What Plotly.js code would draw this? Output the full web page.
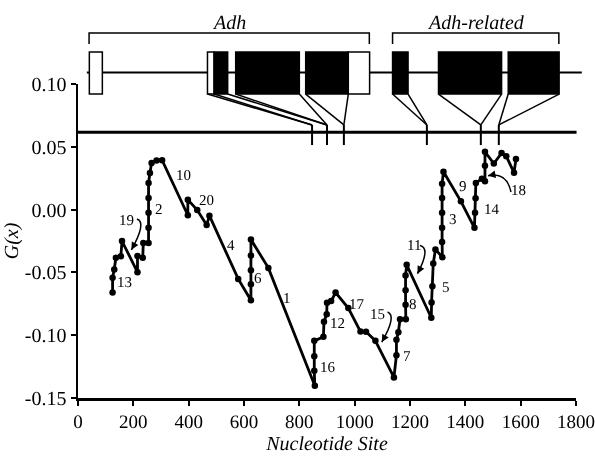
<!DOCTYPE html>
<html>
<head>
<meta charset="utf-8">
<script src="https://cdn.plot.ly/plotly-3.0.1.min.js"></script>
<style>
html,body{margin:0;padding:0;background:#fff;}
#chart{width:595px;height:456px;will-change:transform;}
#chart text{-webkit-font-smoothing:antialiased;text-rendering:geometricPrecision;}
</style>
</head>
<body>
<div id="chart"></div>
<script>
// ---- G(x) profile (nucleotide site, G value) ----
const sites = [125,125,131,137,155,159,215,215,234,236,255,255,255,255,255,260,266,284,304,
  397,397,431,465,475,579,625,625,625,625,625,688,856,854,854,854,887,889,899,900,915,931,
  977,1021,1041,1075,1142,1151,1151,1158,1164,1185,1184,1184,1184,1188,1277,1278,1281,1284,1292,
  1317,1316,1316,1316,1316,1316,1321,1384,1433,1435,1437,1438,1460,1471,1471,1471,1503,1531,1548,1576,1583];
const gvals = [-0.0661,-0.0542,-0.0476,-0.0383,-0.0371,-0.0250,-0.0498,-0.0369,-0.0383,-0.0266,-0.0266,
  -0.0145,-0.0026,0.0093,0.0212,0.0291,0.0371,0.0391,0.0393,
  -0.0045,0.0079,-0.0004,-0.0123,-0.0048,-0.0552,-0.0722,-0.0595,-0.0482,-0.0365,-0.0238,-0.0464,
  -0.1402,-0.1283,-0.1167,-0.1045,-0.1012,-0.0893,-0.0833,-0.0742,-0.0728,-0.0661,
  -0.0784,-0.0971,-0.0972,-0.1045,-0.1336,-0.1159,-0.1036,-0.0976,-0.0873,-0.0873,-0.0758,-0.0643,-0.0524,-0.0440,
  -0.0861,-0.0740,-0.0611,-0.0429,-0.0317,-0.0379,-0.0258,-0.0145,-0.0026,0.0093,0.0206,0.0302,
  0.0066,-0.0145,-0.0026,0.0091,0.0212,0.0246,0.0226,0.0349,0.0460,0.0367,0.0450,0.0425,0.0294,0.0402];

// ---- segment labels ----
const segLabels = ['13','19','2','10','20','4','6','1','16','12','17','15','7','8','11','5','3','9','14','18'];
const segX = [167,177,294,383,465,553,652,754,902,937,1007,1083,1190,1210,1215,1329,1356,1390,1495,1591];
const segY = [-0.0577,-0.0085,0.0008,0.0278,0.0075,-0.0278,-0.0542,-0.0702,-0.1256,-0.0905,-0.0754,
  -0.0828,-0.1169,-0.0748,-0.0278,-0.0613,-0.0074,0.0185,0.0006,0.0154];

// ---- curved pointer arrows (start, control, tip) ----
const arrowStartX = [213, 1236, 1119, 1565];
const arrowStartY = [-0.0075, -0.0285, -0.0815, 0.0140];
const arrowCtrlX = [249, 1276, 1153, 1550];
const arrowCtrlY = [-0.0100, -0.0305, -0.0845, 0.0300];
const arrowTipX = [193, 1227, 1098, 1482];
const arrowTipY = [-0.0320, -0.0510, -0.1055, 0.0270];

// ---- gene diagram ----
const exonStart = [41, 468, 492, 570, 823, 977, 1137, 1303, 1555];
const exonEnd   = [88, 492, 541, 800, 977, 1054, 1193, 1531, 1739];
const exonCoding = [0, 0, 1, 1, 1, 0, 1, 1, 1];
const intronTicks = [846, 900, 961, 1261, 1456, 1521];
const linkFrom = [468, 492, 541, 570, 800, 823, 977, 1137, 1193, 1303, 1531, 1555, 1739];
const linkTo   = [846, 846, 900, 900, 900, 961, 961, 1261, 1261, 1456, 1456, 1521, 1521];
const geneNames = ['Adh', 'Adh-related'];
const bracketStart = [40, 1137];
const bracketEnd = [1053, 1738];
const geneLineStart = 32, geneLineEnd = 1821;

const FONT = 'Liberation Serif, Times New Roman, serif';

const main = {
  x: sites, y: gvals, type: 'scatter', mode: 'lines+markers',
  line: {color: '#000', width: 2.8}, marker: {color: '#000', size: 6.5},
  xaxis: 'x', yaxis: 'y', cliponaxis: false, hoverinfo: 'skip'
};
const dummy = {x: [0], y: [0], xaxis: 'x2', yaxis: 'y2', mode: 'markers',
  marker: {opacity: 0}, hoverinfo: 'skip', showlegend: false};

const Y_BOX_TOP = 0.1255, Y_BOX_BOT = 0.0920, Y_GENE = 0.1092, Y_LINK = 0.0674,
      Y_AXLINE = 0.0615, Y_TICKBOT = 0.0514, Y_BR_TOP = 0.1406, Y_BR_END = 0.1318, Y_NAME = 0.1492;

const shapes = [];
shapes.push({type: 'line', xref: 'x2', yref: 'y2', x0: geneLineStart, x1: geneLineEnd, y0: Y_GENE, y1: Y_GENE,
  line: {color: '#000', width: 2}});
for (let i = 0; i < exonStart.length; i++) {
  shapes.push({type: 'rect', xref: 'x2', yref: 'y2', x0: exonStart[i], x1: exonEnd[i], y0: Y_BOX_BOT, y1: Y_BOX_TOP,
    fillcolor: exonCoding[i] ? '#000' : '#fff', line: {color: '#000', width: 1.5}});
}
for (let i = 0; i < linkFrom.length; i++) {
  shapes.push({type: 'line', xref: 'x2', yref: 'y2', x0: linkFrom[i], x1: linkTo[i], y0: Y_BOX_BOT, y1: Y_LINK,
    line: {color: '#000', width: 1.5}});
}
intronTicks.forEach(t => shapes.push({type: 'line', xref: 'x2', yref: 'y2', x0: t, x1: t, y0: Y_LINK, y1: Y_TICKBOT,
  line: {color: '#000', width: 2}}));
shapes.push({type: 'line', xref: 'x2', yref: 'y2', x0: 0, x1: 1802, y0: Y_AXLINE, y1: Y_AXLINE,
  line: {color: '#000', width: 3}});
for (let i = 0; i < bracketStart.length; i++) {
  shapes.push({type: 'path', xref: 'x2', yref: 'y2',
    path: `M ${bracketStart[i]},${Y_BR_END} L ${bracketStart[i]},${Y_BR_TOP} L ${bracketEnd[i]},${Y_BR_TOP} L ${bracketEnd[i]},${Y_BR_END}`,
    line: {color: '#000', width: 1.5}});
}
for (let i = 0; i < arrowStartX.length; i++) {
  shapes.push({type: 'path', xref: 'x', yref: 'y',
    path: `M ${arrowStartX[i]},${arrowStartY[i]} Q ${arrowCtrlX[i]},${arrowCtrlY[i]} ${arrowTipX[i]},${arrowTipY[i]}`,
    line: {color: '#000', width: 1.5}});
}

const annotations = [];
for (let i = 0; i < segLabels.length; i++) {
  annotations.push({x: segX[i], y: segY[i], xref: 'x', yref: 'y', text: segLabels[i], showarrow: false,
    font: {family: FONT, size: 15, color: '#000000'}});
}
const PXX = 0.2767, PXY = 1256;
for (let i = 0; i < arrowTipX.length; i++) {
  let dx = (arrowCtrlX[i] - arrowTipX[i]) * PXX;
  let dy = -(arrowCtrlY[i] - arrowTipY[i]) * PXY;
  const n = Math.hypot(dx, dy);
  annotations.push({x: arrowTipX[i], y: arrowTipY[i], xref: 'x', yref: 'y', text: '', showarrow: true,
    ax: dx / n * 7, ay: dy / n * 7, arrowhead: 2, arrowsize: 1, arrowwidth: 1.5, arrowcolor: '#000', standoff: 0});
}
const nameX = geneNames.map((_, i) => (bracketStart[i] + bracketEnd[i]) / 2);
geneNames.forEach((g, i) => annotations.push({x: nameX[i], y: Y_NAME, xref: 'x2', yref: 'y2',
  text: '<i>' + g + '</i>', showarrow: false, font: {family: FONT, size: 20, color: '#000'}}));

const yTickVals = [-0.15, -0.10, -0.05, 0.00, 0.05, 0.10];
const yTickText = ['-0.15', '-0.10', '-0.05', '0.00', '0.05', '0.10'];

const layout = {
  width: 595, height: 456,
  margin: {l: 78, r: 5, t: 5, b: 58},
  paper_bgcolor: '#fff', plot_bgcolor: 'rgba(0,0,0,0)',
  showlegend: false,
  font: {family: FONT, color: '#000'},
  xaxis: {domain: [0, 498 / 512], range: [0, 1800], anchor: 'y', dtick: 200, tick0: 0,
    showline: true, linecolor: '#000', linewidth: 2.5, ticks: 'outside', ticklen: 5, tickwidth: 2, tickcolor: '#000',
    showgrid: false, zeroline: false, tickfont: {family: FONT, size: 19, color: '#000'},
    title: {text: '<i>Nucleotide Site</i>', font: {family: FONT, size: 20, color: '#000'}, standoff: 4}},
  yaxis: {domain: [0, 314 / 393], range: [-0.15, 0.10], anchor: 'x', tickvals: yTickVals, ticktext: yTickText,
    showline: true, linecolor: '#000', linewidth: 2.5, ticks: 'outside', ticklen: 5, tickwidth: 2, tickcolor: '#000',
    showgrid: false, zeroline: false, tickfont: {family: FONT, size: 20, color: '#000'},
    title: {text: '<i>G(x)</i>', font: {family: FONT, size: 20, color: '#000'}, standoff: 6}},
  xaxis2: {domain: [0, 1], range: [0, 1800 * 512 / 498], anchor: 'y2', visible: false, fixedrange: true},
  yaxis2: {domain: [0, 1], range: [-0.15, -0.15 + 393 / 1256], anchor: 'x2', visible: false, fixedrange: true},
  shapes: shapes,
  annotations: annotations
};

Plotly.newPlot('chart', [main, dummy], layout, {displayModeBar: false, staticPlot: true});
</script>
</body>
</html>
